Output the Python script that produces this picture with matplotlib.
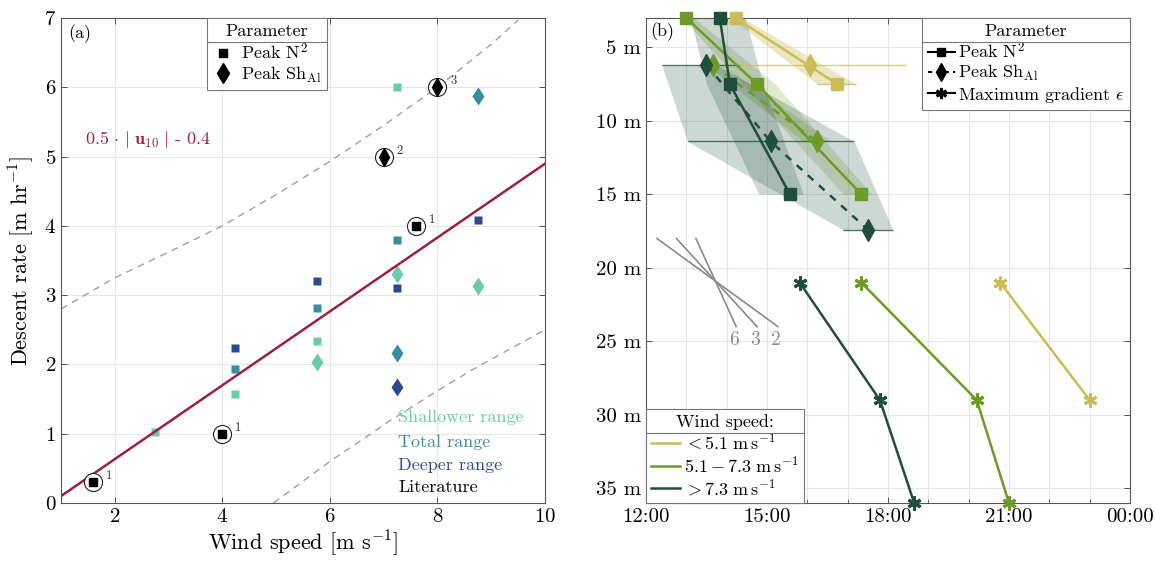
import matplotlib
matplotlib.use("Agg")
import matplotlib.pyplot as plt
import numpy as np
from matplotlib.lines import Line2D

plt.rcParams['font.family'] = ['cmr10', 'DejaVu Serif']
plt.rcParams['mathtext.fontset'] = 'cm'
plt.rcParams['axes.formatter.use_mathtext'] = True
plt.rcParams['axes.unicode_minus'] = False

# ---------------- panel (a) data ----------------
shallow_sq_x = [2.75, 4.24, 5.76, 7.25]
shallow_sq_y = [1.03, 1.58, 2.34, 6.0]
shallow_di_x = [5.76, 7.25, 8.75]
shallow_di_y = [2.03, 3.31, 3.13]
total_sq_x = [4.24, 5.76, 7.25]
total_sq_y = [1.94, 2.82, 3.79]
total_di_x = [7.25, 8.75]
total_di_y = [2.17, 5.87]
deep_sq_x = [4.24, 5.76, 7.25, 8.75]
deep_sq_y = [2.24, 3.2, 3.1, 4.09]
deep_di_x = [7.25]
deep_di_y = [1.67]
lit_sq_x = [1.6, 4.0, 7.6]
lit_sq_y = [0.3, 1.0, 4.0]
lit_sq_ref = ['1', '1', '1']
lit_di_x = [7.0, 8.0]
lit_di_y = [5.0, 6.0]
lit_di_ref = ['2', '3']

fit_slope = 0.533
fit_icpt = -0.433
upper_x = [1, 2, 3, 4, 5, 6, 7, 8, 9, 9.5]
upper_y = [2.8, 3.25, 3.62, 4.0, 4.45, 4.93, 5.45, 6.0, 6.62, 6.97]
lower_x = [4.95, 6, 7.14, 8, 8.64, 10]
lower_y = [0.0, 0.6, 1.2, 1.62, 1.92, 2.5]

c_shallow = '#6ccba6'
c_total = '#3a8c9a'
c_deep = '#2e4a8f'
c_fit = '#9b1f48'

# ---------------- panel (b) data (time in hours, depth in m) ----------------
groups = ['< 5.1', '5.1 - 7.3', '> 7.3']
group_labels = [r'$<5.1\ \mathrm{m\,s^{-1}}$',
                r'$5.1 - 7.3\ \mathrm{m\,s^{-1}}$',
                r'$>7.3\ \mathrm{m\,s^{-1}}$']
group_colors = ['#cbbd55', '#6e9b25', '#1f4e3d']

sq_t = [[14.22, 16.74], [13.0, 14.75, 17.34], [13.83, 14.08, 15.57]]
sq_d = [[3.0, 7.5], [3.0, 7.5, 15.0], [3.0, 7.5, 15.0]]
di_t = [[16.07], [13.65, 16.24], [13.5, 15.09, 17.5]]
di_d = [[6.2], [6.2, 11.4], [6.2, 11.4, 17.4]]
st_t = [[20.78, 23.0], [17.34, 20.2, 21.0], [15.81, 17.8, 18.65]]
st_d = [[21.0, 29.0], [21.0, 29.0, 36.0], [21.0, 29.0, 36.0]]

# shaded ranges: earliest / latest time at each depth
sq_rng_lo = [[14.1, 16.24], [12.9, 14.4, 16.9], [13.1, 13.5, 14.8]]
sq_rng_hi = [[14.4, 17.2], [13.2, 15.2, 17.6], [14.46, 14.9, 15.9]]
di_rng_lo = [[13.49], [13.5, 15.9], [12.39, 13.03, 16.88]]
di_rng_hi = [[18.44], [13.9, 16.6], [13.75, 17.16, 18.12]]
di_bar_lo = [[13.49, 16.24], [], [12.39, 13.03, 16.88]]
di_bar_hi = [[18.44, 17.2], [], [14.3, 17.16, 18.12]]
di_bar_d = [[6.2, 7.5], [], [6.2, 11.4, 17.4]]

slopes = [6, 3, 2]
slope_anchor_t = 13.72
slope_anchor_d = 20.9
slope_top, slope_bot = 18.0, 24.0

time_ticks = [12, 15, 18, 21, 24]
time_labels = ['12:00', '15:00', '18:00', '21:00', '00:00']
depth_ticks = [5, 10, 15, 20, 25, 30, 35]

# ---------------- figure ----------------
fig = plt.figure(figsize=(11.56, 5.63), dpi=100)
ax1 = fig.add_axes([0.0528, 0.1066, 0.4187, 0.8615])
ax2 = fig.add_axes([0.5588, 0.1066, 0.4187, 0.8615])

frame_col = '#555555'
for ax in (ax1, ax2):
    for s in ax.spines.values():
        s.set_color(frame_col)
        s.set_linewidth(0.8)
    ax.tick_params(direction='in', top=True, right=True, length=4,
                   color=frame_col, labelsize=15, width=0.7)
    ax.set_axisbelow(True)

# ----- panel (a) -----
ax1.set_xlim(1, 10)
ax1.set_ylim(0, 7)
ax1.set_xticks([2, 4, 6, 8, 10])
ax1.set_yticks(range(8))
ax1.grid(True, color='#e6e6e6', lw=0.8)

ax1.plot(upper_x, upper_y, ls=(0, (5, 4)), color='#a0a0a0', lw=1, zorder=1)
ax1.plot(lower_x, lower_y, ls=(0, (5, 4)), color='#a0a0a0', lw=1, zorder=1)
fx = np.array(ax1.get_xlim())
ax1.plot(fx, fit_slope * fx + fit_icpt, color=c_fit, lw=1.8, zorder=4)

sq_ms, di_ms = 6, 9.5
for xs, ys, c in [(shallow_sq_x, shallow_sq_y, c_shallow),
                  (total_sq_x, total_sq_y, c_total),
                  (deep_sq_x, deep_sq_y, c_deep)]:
    ax1.plot(xs, ys, 's', color=c, ms=sq_ms, mec='none', zorder=3)
for xs, ys, c in [(shallow_di_x, shallow_di_y, c_shallow),
                  (total_di_x, total_di_y, c_total),
                  (deep_di_x, deep_di_y, c_deep)]:
    ax1.plot(xs, ys, 'd', color=c, ms=di_ms, mec='none', zorder=3)

ax1.plot(lit_sq_x, lit_sq_y, 'o', mfc='white', mec='#222222', ms=13, mew=0.8, zorder=5)
ax1.plot(lit_sq_x, lit_sq_y, 's', color='black', ms=5.5, zorder=6)
ax1.plot(lit_di_x, lit_di_y, 'o', mfc='white', mec='#222222', ms=13, mew=0.8, zorder=5)
ax1.plot(lit_di_x, lit_di_y, 'd', color='black', ms=9, zorder=6)
for xs, ys, refs in [(lit_sq_x, lit_sq_y, lit_sq_ref), (lit_di_x, lit_di_y, lit_di_ref)]:
    for x, y, r in zip(xs, ys, refs):
        ax1.annotate(r, (x, y), xytext=(9, 2), textcoords='offset points',
                     fontsize=9, color='#333333', zorder=7)

ax1.text(1.45, 5.24, r'$0.5\,\cdot\,|\;\mathbf{u_{10}}\;|$ - 0.4', color=c_fit,
         fontsize=13, va='center')
ax1.text(0.015, 0.968, '(a)', transform=ax1.transAxes, fontsize=13, va='center')

for txt, c, yy in [('Shallower range', c_shallow, 1.23), ('Total range', c_total, 0.88),
                   ('Deeper range', c_deep, 0.55), ('Literature', 'black', 0.23)]:
    ax1.text(7.27, yy, txt, color=c, fontsize=13, va='center')

ax1.set_xlabel(r'Wind speed [m s$^{-1}$]', fontsize=16, labelpad=2)
ax1.set_ylabel(r'Descent rate [m hr$^{-1}$]', fontsize=16, labelpad=6)

h_a = [Line2D([], [], ls='none', marker='s', color='black', ms=6),
       Line2D([], [], ls='none', marker='d', color='black', ms=10)]
leg_a = ax1.legend(h_a, [r'Peak N$^2$', r'Peak Sh$_{\rm Al}$'], title='Parameter',
                   loc='upper center', bbox_to_anchor=(0.425, 1.0), borderaxespad=0,
                   fontsize=13, title_fontsize=13, fancybox=False, framealpha=1,
                   edgecolor='#777777', handlelength=1.2, handletextpad=0.4,
                   labelspacing=0.15, borderpad=0.3)
leg_a.get_frame().set_linewidth(0.8)

# ----- panel (b) -----
ax2.set_xlim(12, 24)
ax2.set_ylim(36, 3)
ax2.set_xticks(time_ticks)
ax2.set_xticklabels(time_labels)
ax2.set_xticks(range(12, 25), minor=True)
ax2.set_yticks(depth_ticks)
ax2.set_yticklabels([f'{d} m' for d in depth_ticks])
ax2.tick_params(which='minor', direction='in', top=True, length=3, color=frame_col)
ax2.grid(True, which='both', axis='x', color='#e6e6e6', lw=0.8)
ax2.grid(True, which='major', axis='y', color='#e6e6e6', lw=0.8)

fill_alpha = [0.35, 0.22, 0.22]
for g in range(3):
    c = group_colors[g]
    ax2.fill_betweenx(sq_d[g], sq_rng_lo[g], sq_rng_hi[g], color=c,
                      alpha=fill_alpha[g], lw=0, zorder=1)
    if len(di_d[g]) > 1:
        ax2.fill_betweenx(di_d[g], di_rng_lo[g], di_rng_hi[g], color=c,
                          alpha=fill_alpha[g], lw=0, zorder=1)
    if di_bar_d[g]:
        ax2.hlines(di_bar_d[g], di_bar_lo[g], di_bar_hi[g], color=c, lw=1,
                   alpha=0.75, zorder=2)

for g in [0, 1, 2]:
    c = group_colors[g]
    ax2.plot(sq_t[g], sq_d[g], '-s', color=c, lw=1.8, ms=8, mec=c, zorder=4, clip_on=False)
    ax2.plot(di_t[g], di_d[g], '--d', color=c, lw=1.8, ms=11, mec=c, zorder=4,
             dashes=(3, 3), clip_on=False)
    ax2.plot(st_t[g], st_d[g], '-', marker=(6, 2, 0), color=c, lw=1.8, ms=10, mew=2.2,
             zorder=4, clip_on=False)

for s in slopes:
    ts = [slope_anchor_t + (slope_top - slope_anchor_d) / s,
          slope_anchor_t + (slope_bot - slope_anchor_d) / s]
    ax2.plot(ts, [slope_top, slope_bot], color='#8a8a8a', lw=1.2, zorder=2)
    ax2.text(ts[1] - 0.05, slope_bot + 0.3, str(s), color='#8a8a8a', fontsize=14,
             ha='center', va='top')

ax2.text(0.008, 0.972, '(b)', transform=ax2.transAxes, fontsize=13, va='center')

h_p = [Line2D([], [], color='black', marker='s', ms=6, lw=1.5),
       Line2D([], [], color='black', marker='d', ms=9, lw=1.5, ls='--', dashes=(2, 2)),
       Line2D([], [], color='black', marker=(6, 2, 0), ms=8, mew=2, lw=1.5)]
leg_p = ax2.legend(h_p, [r'Peak N$^2$', r'Peak Sh$_{\rm Al}$', r'Maximum gradient $\epsilon$'],
                   title='Parameter', loc='upper right', borderaxespad=0,
                   fontsize=13, title_fontsize=13, fancybox=False, framealpha=1,
                   edgecolor='#777777', handlelength=1.5, handletextpad=0.2,
                   labelspacing=0.1, borderpad=0.3)
leg_p.get_frame().set_linewidth(0.8)
ax2.add_artist(leg_p)

h_w = [Line2D([], [], color=c, lw=1.8) for c in group_colors]
leg_w = ax2.legend(h_w, group_labels, title='Wind speed:', loc='lower left',
                   borderaxespad=0, fontsize=13, title_fontsize=13, fancybox=False,
                   framealpha=1, edgecolor='#777777', handlelength=1.6,
                   handletextpad=0.2, labelspacing=0.1, borderpad=0.3)
leg_w.get_frame().set_linewidth(0.8)


def title_rule(leg):
    fig.canvas.draw()
    r = fig.canvas.get_renderer()
    fb = leg.get_frame().get_window_extent(r)
    tb = leg.get_title().get_window_extent(r)
    y = tb.y0 - 3
    inv = fig.transFigure.inverted()
    (x0, yy), (x1, _) = inv.transform([(fb.x0, y), (fb.x1, y)])
    fig.add_artist(Line2D([x0, x1], [yy, yy], transform=fig.transFigure,
                          color='#777777', lw=0.8, zorder=10))


for leg in (leg_a, leg_p, leg_w):
    title_rule(leg)

fig.savefig('out.png', dpi=100)
